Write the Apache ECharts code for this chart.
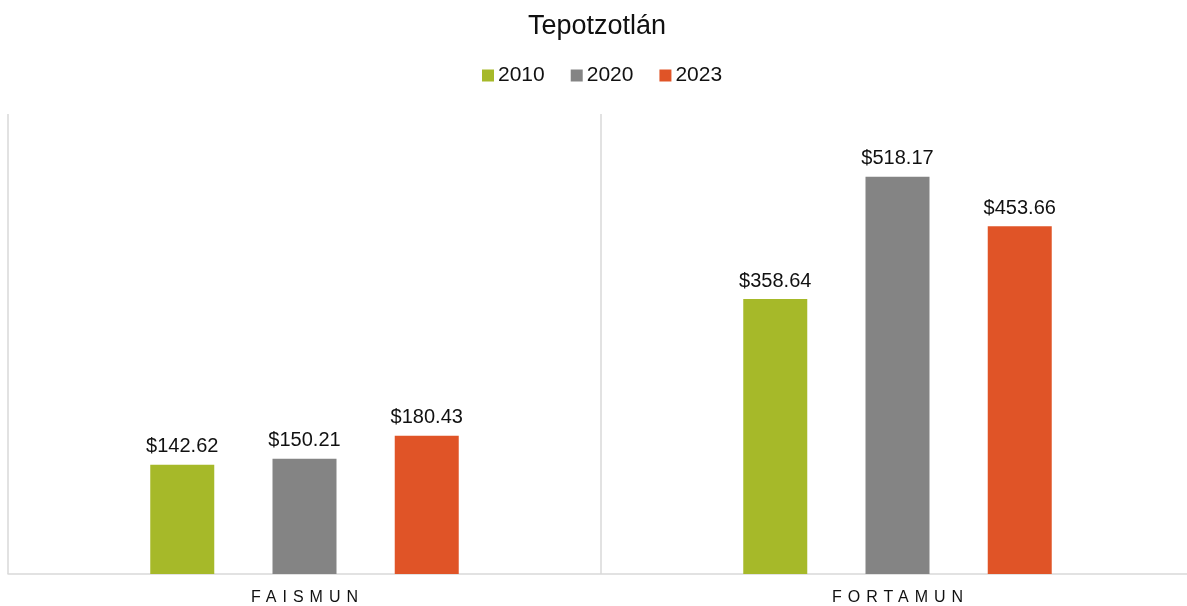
<!DOCTYPE html>
<html>
<head>
<meta charset="utf-8">
<script src="https://cdn.jsdelivr.net/npm/echarts@6/dist/echarts.min.js"></script>
<style>
html,body{margin:0;padding:0;background:#fff;overflow:hidden;width:1187px;height:606px;}
#chart{width:1194px;height:606px;}
</style>
</head>
<body>
<div id="chart"></div>
<script>
const categories = ['FAISMUN', 'FORTAMUN'];
const seriesNames = ['2010', '2020', '2023'];
const values2010 = [142.62, 358.64];
const values2020 = [150.21, 518.17];
const values2023 = [180.43, 453.66];
const colors = ['#A6B929', '#848484', '#E05427'];

// widen letter spacing of the category labels only (text stays real text)
const catSpacing = 6;
const origFill = CanvasRenderingContext2D.prototype.fillText;
CanvasRenderingContext2D.prototype.fillText = function (t, x, y, m) {
  if (categories.indexOf(t) >= 0 && 'letterSpacing' in this) {
    const f = this.font;
    const prev = this.letterSpacing;
    this.save();
    this.letterSpacing = catSpacing + 'px';
    this.font = f;
    const dx = this.textAlign === 'center' ? catSpacing / 2 : 0;
    if (m === undefined) origFill.call(this, t, x + dx, y);
    else origFill.call(this, t, x + dx, y, m);
    this.restore();
    this.letterSpacing = prev;
    this.font = f;
    return;
  }
  return origFill.apply(this, arguments);
};

const chart = echarts.init(document.getElementById('chart'));
const font = 'Liberation Sans, Arial, sans-serif';
const allValues = [values2010, values2020, values2023];

chart.setOption({
  animation: false,
  title: {
    text: 'Tepotzotlán',
    left: 'center',
    top: 8,
    textStyle: { fontFamily: font, fontSize: 27, fontWeight: 'normal', color: '#111' }
  },
  legend: {
    data: seriesNames,
    top: 60,
    left: 477,
    itemWidth: 12,
    itemHeight: 12,
    itemGap: 26,
    icon: 'rect',
    textStyle: { fontFamily: font, fontSize: 21, color: '#111', padding: [0, 0, 0, -1] }
  },
  grid: { left: 8, right: 0, top: 114, bottom: 30, containLabel: false },
  xAxis: {
    type: 'category',
    data: categories,
    axisLine: { show: true, lineStyle: { color: '#d9d9d9', width: 1.5 } },
    axisTick: { show: false },
    axisLabel: { fontFamily: font, fontSize: 16, color: '#111', margin: 16 },
    splitLine: { show: true, lineStyle: { color: '#d9d9d9', width: 1.5 } }
  },
  yAxis: {
    type: 'value',
    min: 0,
    max: 600,
    show: false,
    splitLine: { show: false }
  },
  series: seriesNames.map((name, i) => ({
    name: name,
    type: 'bar',
    data: allValues[i],
    barWidth: 64,
    barGap: '91%',
    itemStyle: { color: colors[i] },
    label: {
      show: true,
      position: 'top',
      distance: 8,
      fontFamily: font,
      fontSize: 20,
      color: '#111',
      formatter: p => '$' + p.value.toFixed(2)
    }
  }))
});
</script>
</body>
</html>
